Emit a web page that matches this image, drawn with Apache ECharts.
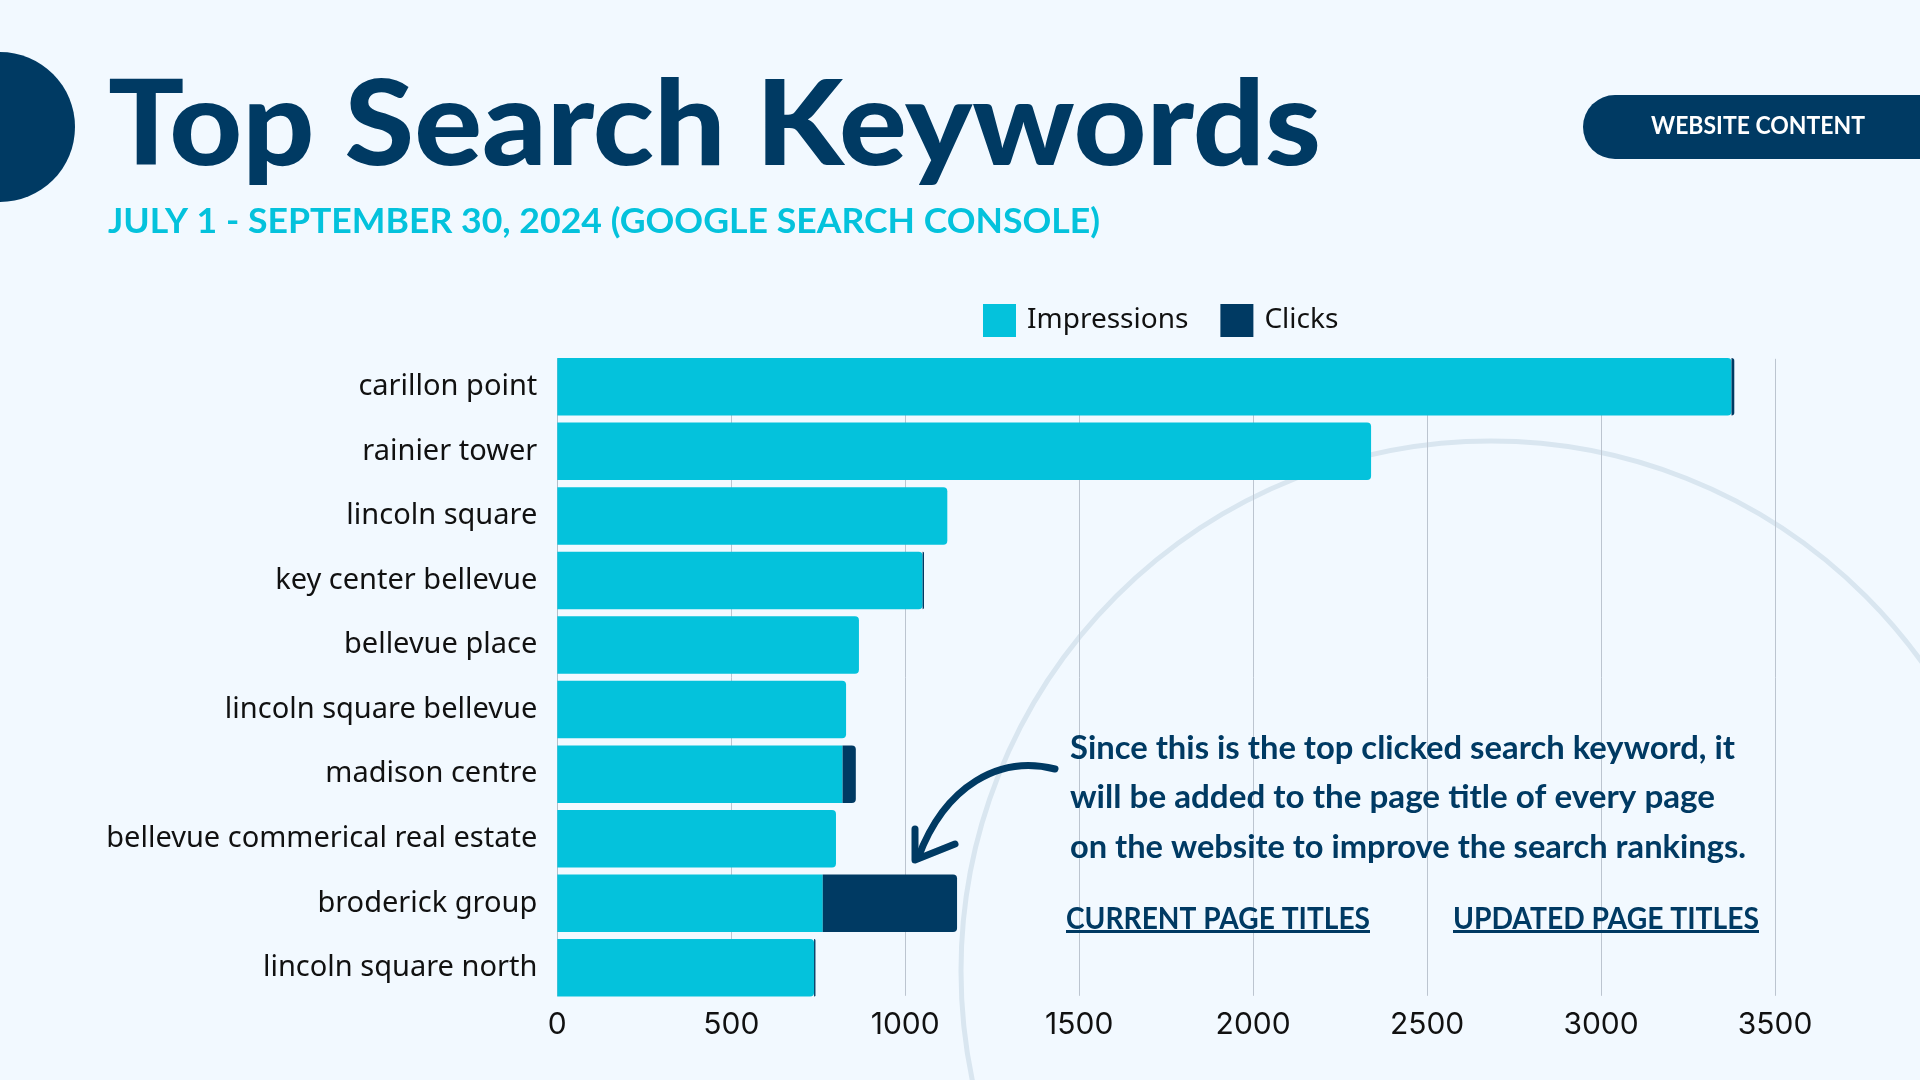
<!DOCTYPE html>
<html>
<head>
<meta charset="utf-8">
<title>Top Search Keywords</title>
<script src="https://cdn.jsdelivr.net/npm/echarts@6/dist/echarts.min.js"></script>
<style>
  html, body { margin: 0; padding: 0; background: #f2f9ff; }
  #chart { width: 1920px; height: 1080px; }
</style>
</head>
<body>
<div id="chart"></div>
<script>
const keywords = ['carillon point', 'rainier tower', 'lincoln square', 'key center bellevue', 'bellevue place',
  'lincoln square bellevue', 'madison centre', 'bellevue commerical real estate', 'broderick group', 'lincoln square north'];
const impressions = [3375, 2339, 1121, 1050, 867, 830, 820, 801, 763, 738];
const clicks = [8, 0, 0, 4, 0, 0, 38, 0, 386, 4];
const tickInterval = 500;
const tickMax = 3500;

const NAVY = '#003a63';
const CYAN = '#04c2dc';
const LABEL_FONT = '"Noto Sans"';
const TICK_FONT = 'Inter';
const HEAD_FONT = 'Lato';

// squeeze or stretch a text to the width it has in the picture
function fitText(text, x, baseline, width, size, weight, fill) {
  const ctx = document.createElement('canvas').getContext('2d');
  ctx.font = weight + ' ' + size + 'px ' + HEAD_FONT;
  return {
    type: 'text',
    x: x,
    y: baseline - size * 0.8,
    scaleX: width / ctx.measureText(text).width,
    z: 10,
    style: {
      text: text,
      fill: fill,
      fontFamily: HEAD_FONT,
      fontWeight: weight,
      fontSize: size
    }
  };
}

function underline(x, y, width) {
  return {
    type: 'rect',
    z: 10,
    shape: { x: x, y: y, width: width, height: 3 },
    style: { fill: NAVY }
  };
}

const chart = echarts.init(document.getElementById('chart'));

chart.setOption({
  backgroundColor: '#f2f9ff',
  animation: false,
  legend: {
    left: 983,
    top: 304,
    itemWidth: 33,
    itemHeight: 33,
    itemGap: 32,
    padding: 0,
    icon: 'rect',
    data: ['Impressions', 'Clicks'],
    textStyle: { fontFamily: LABEL_FONT, fontSize: 28, color: '#111', padding: [3, 0, 0, 6] }
  },
  // grid 0 holds the bars, grid 1 the shorter gridlines and the ticks
  grid: [
    { left: 557.3, top: 354.5, width: 1217.7, height: 645.6 },
    { left: 557.3, top: 358.8, width: 1217.7, height: 637 }
  ],
  xAxis: [
    { type: 'value', gridIndex: 0, min: 0, max: tickMax, interval: tickInterval, show: false },
    {
      type: 'value',
      gridIndex: 1,
      min: 0,
      max: tickMax,
      interval: tickInterval,
      axisLine: { show: false },
      axisTick: { show: false },
      axisLabel: { fontFamily: TICK_FONT, fontSize: 30, color: '#111', margin: 14, formatter: v => String(v) },
      splitLine: { show: true, lineStyle: { color: '#bcc5d0', width: 1 } }
    }
  ],
  yAxis: [
    {
      type: 'category',
      gridIndex: 0,
      inverse: true,
      data: keywords,
      axisLine: { show: false },
      axisTick: { show: false },
      axisLabel: { fontFamily: LABEL_FONT, fontSize: 29, color: '#111', margin: 20 }
    },
    {
      type: 'category',
      gridIndex: 1,
      data: [],
      axisLine: { show: true, lineStyle: { color: '#b5bec8', width: 1 } },
      axisTick: { show: false },
      axisLabel: { show: false }
    }
  ],
  series: [
    {
      name: 'Impressions',
      type: 'bar',
      stack: 'total',
      barWidth: 57.5,
      itemStyle: { color: CYAN },
      data: impressions.map((v, i) => ({
        value: v,
        itemStyle: { borderRadius: clicks[i] > 20 ? 0 : [0, 4, 4, 0] }
      }))
    },
    {
      name: 'Clicks',
      type: 'bar',
      stack: 'total',
      barWidth: 57.5,
      itemStyle: { color: NAVY, borderRadius: [0, 4, 4, 0] },
      data: clicks
    }
  ],
  graphic: [
    // big pale ring behind the chart
    {
      type: 'circle',
      z: -1,
      shape: { cx: 1491, cy: 971, r: 530 },
      style: { fill: 'none', stroke: '#d9e6f0', lineWidth: 5 }
    },
    // half disc at the left edge
    { type: 'circle', z: 10, shape: { cx: 0, cy: 127, r: 75 }, style: { fill: NAVY } },
    fitText('Top Search Keywords', 108, 162, 1213, 118, 900, NAVY),
    fitText('JULY 1 - SEPTEMBER 30, 2024 (GOOGLE SEARCH CONSOLE)', 108, 232, 992, 34, 700, CYAN),
    // tag top right
    {
      type: 'rect',
      z: 10,
      shape: { x: 1583, y: 95, width: 340, height: 64, r: [32, 0, 0, 32] },
      style: { fill: NAVY }
    },
    fitText('WEBSITE CONTENT', 1651, 133, 214, 25, 700, '#fff'),
    // note on the broderick group bar
    fitText('Since this is the top clicked search keyword, it', 1070, 758, 665, 32, 700, NAVY),
    fitText('will be added to the page title of every page', 1070, 807, 645, 32, 700, NAVY),
    fitText('on the website to improve the search rankings.', 1070, 857, 676, 32, 700, NAVY),
    fitText('CURRENT PAGE TITLES', 1066, 928, 304, 31, 700, NAVY),
    underline(1066, 930, 304),
    fitText('UPDATED PAGE TITLES', 1453, 928, 306, 31, 700, NAVY),
    underline(1453, 930, 306),
    // hand drawn arrow
    {
      type: 'bezierCurve',
      z: 10,
      shape: { x1: 1055, y1: 769, x2: 918, y2: 858, cpx1: 1000, cpy1: 755, cpx2: 945, cpy2: 785 },
      style: { fill: 'none', stroke: NAVY, lineWidth: 7, lineCap: 'round' }
    },
    {
      type: 'polyline',
      z: 10,
      shape: { points: [[915, 829], [915, 860], [955, 844]] },
      style: { fill: 'none', stroke: NAVY, lineWidth: 7, lineCap: 'round', lineJoin: 'round' }
    }
  ]
});
</script>
</body>
</html>
